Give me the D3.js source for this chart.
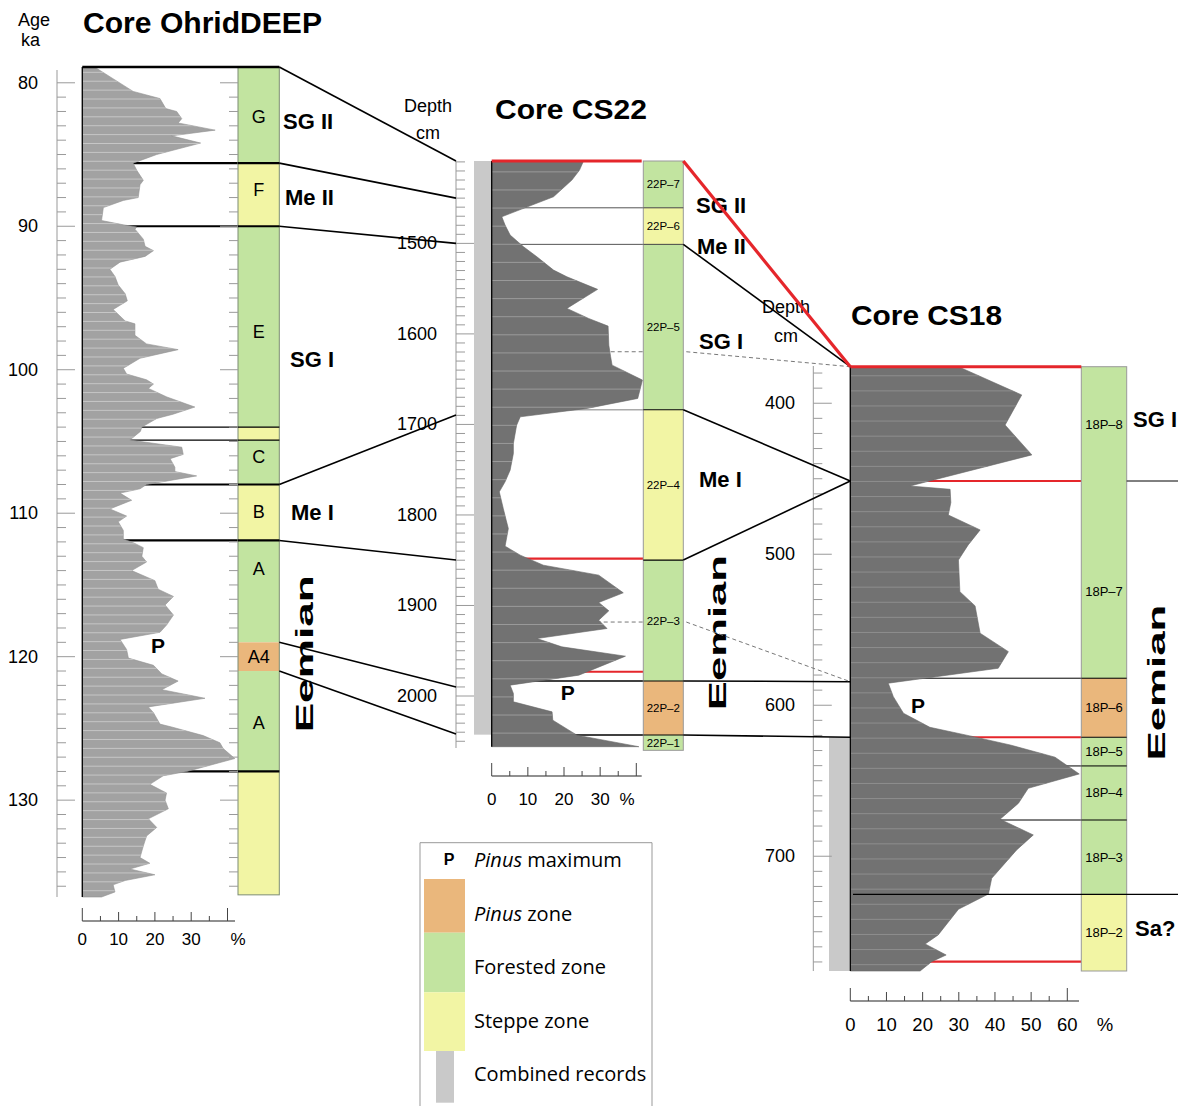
<!DOCTYPE html>
<html><head><meta charset="utf-8">
<script src="https://cdn.jsdelivr.net/npm/d3@7"></script>
<style>body{margin:0;background:#fff}svg{display:block}</style>
</head><body><svg id="chart" width="1186" height="1106" font-family="'Liberation Sans', Arial, Helvetica, sans-serif"></svg>
<script>
// ---------------- DATA ----------------
// OhridDEEP: Pinus % vs age (ka)
const ohridAge = [78.9,79.0,80.6,81.1,81.8,82.0,82.5,82.8,83.3,83.7,84.2,85.0,85.6,86.1,86.8,87.1,88.0,88.2,88.7,89.6,89.9,90.05,90.2,90.9,91.4,91.7,92.1,92.5,93.0,93.5,94.1,94.7,95.2,95.8,96.6,96.8,97.6,98.2,98.6,99.2,99.9,100.3,100.7,101.0,101.3,101.9,102.6,103.1,103.4,104.0,104.3,104.9,105.4,105.9,106.2,106.8,107.1,107.4,108.0,108.3,108.6,109.1,109.7,110.2,110.6,111.2,111.8,112.0,112.4,113.0,113.4,114.0,114.7,115.3,115.8,116.4,117.1,117.8,118.3,118.8,119.5,120.1,120.6,121.2,121.7,122.3,122.9,123.5,123.9,124.7,124.9,125.5,126.0,126.4,127.1,128.0,128.3,128.9,129.5,130.0,130.6,131.3,131.9,132.5,133.2,134.0,134.4,134.8,135.2,135.6,135.9,136.4,136.75];
const ohridPinus = [3.5,4,14,21.4,23,26,27.4,26.4,36.6,24.6,32.6,20.5,14,15,16.8,15.9,15.4,11.3,5.8,5.3,11.3,15,14.5,16.8,17.3,19.6,17.3,10.4,7.6,9,9.9,11.8,12.4,8.5,11.8,14.5,14.5,17.7,26.4,15.9,11.3,12.2,17.7,19.6,18.2,23.3,31,25,20.5,16.4,16,13.1,27.4,27.8,24.2,25.5,25.5,31.5,17.7,15.9,10.4,13.6,7.6,12.2,9.9,11.3,11.3,13.6,16.8,16.4,17.7,13.6,20,20.9,25.1,22.8,25.1,23.2,21.4,10.4,12.2,12.7,19.6,21.9,26.4,21.9,33.8,18.2,19.6,21.4,24.6,33.3,37.9,38.8,42,28.8,22.3,18.6,23.2,22.8,23.7,18.2,20.5,17.7,16.8,15.9,18.6,13.1,20,11.8,8.5,9,5.3];
const ohridZoneNames  = ["G","F","E","","C","B","A","A4","A",""];
const ohridZoneTops   = [78.9,85.6,90.0,104.0,104.9,108.0,111.9,119.0,121.0,128.0];
const ohridZoneBottoms= [85.6,90.0,104.0,104.9,108.0,111.9,119.0,121.0,128.0,136.6];
const ohridZoneTypes  = ["forest","steppe","forest","steppe","forest","steppe","forest","pinus","forest","steppe"];
const ohridZoneLabelAge = [82.4,87.5,97.4,null,106.1,109.9,113.9,120.0,124.6,null];
const ohridMajorBounds = [85.6,90.0,108.0,111.9,128.0];
const ohridMinorBounds = [104.0,104.9];
const ohridAgeTicks = [80,90,100,110,120,130];
const ohridPhases = ["SG II","Me II","SG I","Me I"];
const ohridPhaseAge = [83.2,88.5,99.8,110.5];   // text baselines

// CS22: Pinus % vs depth (cm)
const cs22Depth = [1409,1419,1430,1448.5,1470.6,1479.8,1490.8,1503.7,1514.8,1529.5,1536.9,1550.8,1571.8,1582.9,1591.4,1612.4,1625.3,1634.5,1651,1671.3,1682.3,1691.6,1700.8,1721,1732,1750.5,1763.4,1774.5,1792.8,1805.7,1815,1834.5,1844.4,1855.5,1866.5,1886,1896.7,1905.9,1916.2,1925.4,1936.5,1945.7,1956,1977,1988,1997.2,2006.4,2017.5,2026.7,2043.3,2056];
const cs22Pinus = [25.4,24.3,22.2,17.1,2.8,3.7,5.1,8.8,12.5,17.1,20.8,29.3,20.8,26.8,32.2,32.4,32.9,33.3,41.7,40.4,26.4,7.9,6.9,6,6,5.1,3.7,2.1,3.2,4,4.6,3.7,7.9,14.3,29.6,36.4,29.6,32.4,29.6,31.9,12.5,19.4,37,24.1,5.1,6,6,16.7,16.9,23.6,40.7];
const cs22ZoneNames   = ["22P\u20137","22P\u20136","22P\u20135","22P\u20134","22P\u20133","22P\u20132","22P\u20131"];
const cs22ZoneTops    = [1409,1460.7,1501.1,1683.8,1849.8,1983.4,2043.1];
const cs22ZoneBottoms = [1460.7,1501.1,1683.8,1849.8,1983.4,2043.1,2060];
const cs22ZoneTypes   = ["forest","steppe","forest","steppe","forest","pinus","forest"];
const cs22DepthTicks  = [1500,1600,1700,1800,1900,2000];
const cs22Combined    = [1409,2042.7];
const cs22RedBounds   = [1848.3,1973.2];
const cs22DashBounds  = [1619.7,1918.3];
const cs22Phases = ["SG II","Me II","SG I","Me I"];
const cs22PhaseDepth = [1466,1512,1617,1769];   // text baselines

// CS18: Pinus % vs depth (cm)
const cs18Depth = [375.8,394.5,414.4,434.2,454.8,457,465.8,474,483.9,493.8,503.8,524.8,534.2,552.3,564.5,575.5,585.4,594.3,605.3,614.6,620.3,626.3,634.4,645.5,655,664.9,675.5,685.9,695.8,714.6,725,735.1,752.1,758.1,765.4,769.8,776];
const cs18Pinus = [29.9,47.4,42.8,50.2,16.5,27.6,27.8,27.1,35.9,32.6,29.9,30.3,34.5,35.9,43.7,40.9,10.5,11.9,14.7,22,33.1,44.2,56.6,63.3,49.2,46.5,41.4,50.6,46,39.1,38.2,29.9,24.3,20.7,26.5,22.5,19.3];
const cs18ZoneNames   = ["18P\u20138","18P\u20137","18P\u20136","18P\u20135","18P\u20134","18P\u20133","18P\u20132"];
const cs18ZoneTops    = [375.8,451.5,582.1,621.2,640.2,676,725.2];
const cs18ZoneBottoms = [451.5,582.1,621.2,640.2,676,725.2,776];
const cs18ZoneTypes   = ["forest","forest","pinus","forest","forest","forest","steppe"];
const cs18ZoneLabelDepth = [414.4,524.9,null,null,null,null,null];
const cs18DepthTicks  = [400,500,600,700];
const cs18Combined    = [621.2,776];
const cs18RedBounds   = [451.5,621.2,769.8];
const cs18BlackBounds = [582.1,640.2,676];
const cs18Phases = ["SG I","Sa?"];
const cs18PhaseDepth = [415.5,753];   // text baselines

// correlations
const ohridToCS22 = [[78.9,1409],[85.6,1450],[90.0,1500],[108.0,1689.5],[111.9,1849.8],[119.0,1990],[121.0,2042]];
const cs22ToCS18Solid = [[1501.1,375.8],[1683.8,451.5],[1849.8,451.5],[1983.4,584.4],[2043.1,621.2]];
const cs22ToCS18Dash  = [[1619.7,375.8],[1918.3,584.4]];
const cs22ToCS18Red   = [[1409,375.8]];

const pctTicks40 = [0,10,20,30];
const pctTicks60 = [0,10,20,30,40,50,60];

const legendLabels = ["Pinus zone","Forested zone","Steppe zone","Combined records"];
const legendKeys   = ["pinus","forest","steppe","combined"];

// ---------------- STYLE ----------------
const zoneFill = {forest:"#c2e4a0", steppe:"#f2f5a4", pinus:"#eab77c", combined:"#c9c9c9"};
const RED = "#e5262b";
const svg = d3.select("#chart");
const defs = svg.append("defs");

// ---------------- SCALES ----------------
const ohY = d3.scaleLinear().domain([78.9,136.75]).range([67,897]);
const ohX = d3.scaleLinear().domain([0,40]).range([82.3,227.5]);
const c22Y = d3.scaleLinear().domain([1409,2056]).range([161,746.7]);
const c22X = d3.scaleLinear().domain([0,40]).range([491.7,636.3]);
const c18Y = d3.scaleLinear().domain([375.8,776]).range([366.7,971]);
const c18X = d3.scaleLinear().domain([0,60]).range([850.3,1067.3]);

const OH_COL = [238,279.3], C22_COL = [643.3,683.3], C18_COL = [1081.3,1126.7];

const gUnder = svg.append("g");
const gCurve = svg.append("g");
const gTop = svg.append("g");

function hline(g, x1, x2, y, stroke, w, dash){
  const l = g.append("line").attr("x1",x1).attr("x2",x2).attr("y1",y).attr("y2",y)
    .attr("stroke",stroke).attr("stroke-width",w);
  if(dash) l.attr("stroke-dasharray",dash);
  return l;
}
function seg(g, x1, y1, x2, y2, stroke, w, dash){
  const l = g.append("line").attr("x1",x1).attr("x2",x2).attr("y1",y1).attr("y2",y2)
    .attr("stroke",stroke).attr("stroke-width",w);
  if(dash) l.attr("stroke-dasharray",dash);
  return l;
}
function text(g, x, y, s, o={}){
  const t = g.append("text").attr("x",x).attr("y",y).text(s)
    .attr("font-size",o.size||18).attr("fill","#000");
  if(o.bold) t.attr("font-weight","bold");
  if(o.anchor) t.attr("text-anchor",o.anchor);
  if(o.mid) t.attr("dominant-baseline","central");
  if(o.len) t.attr("textLength",o.len).attr("lengthAdjust","spacingAndGlyphs");
  if(o.family) t.style("font-family",o.family);
  return t;
}

function drawCurve(id, depths, vals, X, Y, fill, stripe, step){
  const pts = d3.zip(depths, vals);
  const area = d3.area().y(d=>Y(d[0])).x0(X(0)).x1(d=>X(d[1]));
  const p = area(pts);
  defs.append("clipPath").attr("id",id).append("path").attr("d",p);
  gCurve.append("path").attr("d",p).attr("fill",fill).attr("stroke",d3.color(fill).darker(0.3)).attr("stroke-width",0.6);
  const [d0,d1] = Y.domain();
  gCurve.append("g").attr("clip-path",`url(#${id})`)
    .selectAll("line").data(d3.range(d0+step*0.6, d1, step)).join("line")
    .attr("x1",X(0)).attr("x2",X(d3.max(vals))).attr("y1",d=>Y(d)).attr("y2",d=>Y(d))
    .attr("stroke",stripe).attr("stroke-width",1);
  gTop.append("line").attr("x1",X(0)).attr("x2",X(0)).attr("y1",Y(d0)).attr("y2",Y(d1))
    .attr("stroke","#000").attr("stroke-width",1.3);
}

function zoneColumn(col, Y, names, tops, bottoms, types, labelPos, fs, outline){
  const g = gTop.append("g");
  g.selectAll("rect").data(d3.range(names.length)).join("rect")
    .attr("x",col[0]).attr("width",col[1]-col[0])
    .attr("y",i=>Y(tops[i])).attr("height",i=>Y(bottoms[i])-Y(tops[i]))
    .attr("fill",i=>zoneFill[types[i]]);
  g.append("rect").attr("x",col[0]).attr("y",Y(tops[0])).attr("width",col[1]-col[0])
    .attr("height",Y(bottoms[bottoms.length-1])-Y(tops[0])).attr("fill","none")
    .attr("stroke",outline).attr("stroke-width",1);
  names.forEach((n,i)=>{
    if(!n) return;
    const d = (labelPos && labelPos[i]!=null) ? labelPos[i] : (tops[i]+bottoms[i])/2;
    text(g,(col[0]+col[1])/2, Y(d), n, {size:fs, anchor:"middle", mid:true});
  });
}

function depthAxis(Y, x0, ticks, minorLen, majorLen, labels, labelX, yTop, yBot){
  const g = gTop.append("g");
  g.append("line").attr("x1",x0).attr("x2",x0).attr("y1",yTop).attr("y2",yBot).attr("stroke","#999").attr("stroke-width",1);
  g.selectAll("line.t").data(ticks).join("line").attr("class","t")
    .attr("x1",x0).attr("x2",d=>x0+(labels.includes(d)?majorLen:minorLen))
    .attr("y1",d=>Y(d)).attr("y2",d=>Y(d)).attr("stroke","#9a9a9a").attr("stroke-width",1);
  labels.forEach(v=>text(g,labelX,Y(v),String(v),{size:18,anchor:"end",mid:true}));
}

function pctAxis(X, y, maxV, endX, labels, pctX, off, fs){
  const g = gTop.append("g");
  g.append("line").attr("x1",X(0)).attr("x2",endX).attr("y1",y).attr("y2",y).attr("stroke","#222").attr("stroke-width",1.2);
  d3.range(0,maxV+1,5).forEach(v=>{
    const h = (v===0||v===maxV)?13:(v%10===0?9:5);
    seg(g,X(v),y-h,X(v),y,"#444",1);
  });
  labels.forEach(v=>text(g,X(v),y+off,String(v),{size:fs,anchor:"middle"}));
  text(g,pctX,y+off,"%",{size:fs,anchor:"middle"});
}
function eemian(x, y, len){
  gTop.append("text").attr("transform",`translate(${x},${y}) rotate(-90)`)
    .attr("text-anchor","middle").attr("dominant-baseline","central").attr("font-size",23).attr("font-weight","bold")
    .attr("textLength",len).attr("lengthAdjust","spacingAndGlyphs").text("Eemian");
}

// ================= OhridDEEP =================
ohridMajorBounds.forEach(a=>hline(gUnder,ohX(0),OH_COL[1],ohY(a),"#000",2.2));
ohridMinorBounds.forEach(a=>hline(gUnder,ohX(0),OH_COL[1],ohY(a),"#000",1.2));
drawCurve("clipOh", ohridAge, ohridPinus, ohX, ohY, "#a2a2a2", "#c6c6c6", 0.62);
zoneColumn(OH_COL, ohY, ohridZoneNames, ohridZoneTops, ohridZoneBottoms, ohridZoneTypes, ohridZoneLabelAge, 18, "#7d8c75");
{
  const g = gTop.append("g");
  g.append("line").attr("x1",57).attr("x2",57).attr("y1",70).attr("y2",897).attr("stroke","#999");
  d3.range(80,137,1).forEach(a=>{
    const major = ohridAgeTicks.includes(a);
    seg(g,57,ohY(a),major?75:66,ohY(a),"#9a9a9a",1);
    seg(g,major?220:229,ohY(a),238,ohY(a),"#9a9a9a",1);
  });
  ohridAgeTicks.forEach(v=>text(g,38,ohY(v),String(v),{size:18,anchor:"end",mid:true}));
}
pctAxis(ohX, 921, 40, 235, pctTicks40, 238, 24, 17);
hline(gTop, ohX(0), OH_COL[1], ohY(78.9), "#000", 2.6);
ohridMajorBounds.forEach(a=>hline(gTop,OH_COL[0],OH_COL[1],ohY(a),"#000",2.2));
ohridMinorBounds.forEach(a=>hline(gTop,OH_COL[0],OH_COL[1],ohY(a),"#000",1.2));
text(gTop,83,33,"Core OhridDEEP",{size:29,bold:true,len:239});
text(gTop,18,26,"Age",{size:18});
text(gTop,21,46,"ka",{size:18});
ohridPhases.forEach((s,i)=>text(gTop,[283,285,290,291][i],ohY(ohridPhaseAge[i]),s,{size:22,bold:true}));
eemian(305, ohY(119.8), 157);
text(gTop,158,ohY(119.25),"P",{size:21,bold:true,anchor:"middle",mid:true});

// ================= CS22 =================
hline(gUnder,c22X(0),C22_COL[0],c22Y(1460.7),"#555",1);
hline(gUnder,c22X(0),C22_COL[0],c22Y(1501.1),"#555",1);
hline(gUnder,c22X(0),C22_COL[0],c22Y(1683.8),"#aaa",1.5);
cs22RedBounds.forEach(d=>hline(gUnder,c22X(0),C22_COL[0],c22Y(d),RED,2.2));
cs22DashBounds.forEach(d=>hline(gUnder,c22X(0),C22_COL[0],c22Y(d),"#777",1,"4,3"));
hline(gUnder,c22X(0),C22_COL[0],c22Y(1983.4),"#000",1.5);
hline(gUnder,c22X(0),C22_COL[0],c22Y(2043.1),"#000",1.5);
gUnder.append("rect").attr("x",474).attr("width",491-474).attr("y",c22Y(cs22Combined[0]))
  .attr("height",c22Y(cs22Combined[1])-c22Y(cs22Combined[0])).attr("fill",zoneFill.combined);
drawCurve("clip22", cs22Depth, cs22Pinus, c22X, c22Y, "#727272", "#9a9a9a", 20);
zoneColumn(C22_COL, c22Y, cs22ZoneNames, cs22ZoneTops, cs22ZoneBottoms, cs22ZoneTypes, null, 11.5, "#999");
[1460.7,1501.1].forEach(d=>hline(gTop,C22_COL[0],C22_COL[1],c22Y(d),"#444",1));
[1683.8,1849.8,1983.4,2043.1].forEach(d=>hline(gTop,C22_COL[0],C22_COL[1],c22Y(d),"#000",1.2));
depthAxis(c22Y, 456, d3.range(1410,2051,10), 9, 18, cs22DepthTicks, 437, 161, 748);
pctAxis(c22X, 776, 40, 641.7, pctTicks40, 627, 29, 17);
hline(gTop,c22X(0),641.7,c22Y(1409),RED,3);
text(gTop,495,119,"Core CS22",{size:28,bold:true,len:152});
text(gTop,428,112,"Depth",{size:18,anchor:"middle"});
text(gTop,428,139,"cm",{size:18,anchor:"middle"});
cs22Phases.forEach((s,i)=>text(gTop,[696,697,699,699][i],c22Y(cs22PhaseDepth[i]),s,{size:22,bold:true}));
eemian(718, c22Y(1930), 155);
text(gTop,567.7,c22Y(1996),"P",{size:21,bold:true,anchor:"middle",mid:true});

// ================= CS18 =================
cs18RedBounds.forEach(d=>hline(gUnder,c18X(0),C18_COL[0],c18Y(d),RED,2.2));
cs18BlackBounds.forEach(d=>hline(gUnder,c18X(0),C18_COL[1],c18Y(d),"#000",1));
gUnder.append("rect").attr("x",829).attr("width",849.3-829).attr("y",c18Y(cs18Combined[0]))
  .attr("height",c18Y(cs18Combined[1])-c18Y(cs18Combined[0])).attr("fill",zoneFill.combined);
drawCurve("clip18", cs18Depth, cs18Pinus, c18X, c18Y, "#727272", "#8e8e8e", 10);
zoneColumn(C18_COL, c18Y, cs18ZoneNames, cs18ZoneTops, cs18ZoneBottoms, cs18ZoneTypes, cs18ZoneLabelDepth, 13, "#999");
cs18BlackBounds.forEach(d=>hline(gTop,C18_COL[0],C18_COL[1],c18Y(d),"#000",1));
hline(gTop,C18_COL[0],C18_COL[1],c18Y(621.2),"#000",1);
hline(gTop,C18_COL[1],1178,c18Y(451.5),"#000",1);
hline(gTop,853,1178,c18Y(725.2),"#000",1.2);
depthAxis(c18Y, 813.3, d3.range(380,771,10), 9, 18.5, cs18DepthTicks, 795, 366, 971);
pctAxis(c18X, 1001, 60, 1079, pctTicks60, 1105, 29.5, 18.5);
hline(gTop,c18X(0),C18_COL[0],c18Y(375.8),RED,3);
text(gTop,851,325,"Core CS18",{size:28,bold:true,len:151});
text(gTop,786,313,"Depth",{size:18,anchor:"middle"});
text(gTop,786,342,"cm",{size:18,anchor:"middle"});
cs18Phases.forEach((s,i)=>text(gTop,[1133,1135][i],c18Y(cs18PhaseDepth[i]),s,{size:22,bold:true}));
eemian(1157, c18Y(585), 156);
text(gTop,918,c18Y(600),"P",{size:21,bold:true,anchor:"middle",mid:true});

// ================= correlation lines =================
ohridToCS22.forEach(([a,d])=>seg(gTop,OH_COL[1],ohY(a),456,c22Y(d),"#000",1.6));
cs22ToCS18Solid.forEach(([a,b])=>seg(gTop,C22_COL[1],c22Y(a),c18X(0),c18Y(b),"#000",1.6));
cs22ToCS18Dash.forEach(([a,b])=>seg(gTop,C22_COL[1]+3,c22Y(a),c18X(0),c18Y(b),"#777",1,"4,3"));
cs22ToCS18Red.forEach(([a,b])=>seg(gTop,C22_COL[1],c22Y(a),c18X(0),c18Y(b),RED,3.2));

// ================= legend =================
{
  const g = gTop.append("g");
  g.append("path").attr("d","M420,1106V842.7H652V1106").attr("fill","none").attr("stroke","#999").attr("stroke-width",1);
  const LF = "'Open Sans','Noto Sans',sans-serif";
  text(g,449,859,"P",{size:16,bold:true,anchor:"middle",mid:true});
  const t0 = g.append("text").attr("x",474).attr("y",859).attr("dominant-baseline","central")
    .attr("font-size",20).style("font-family",LF);
  t0.append("tspan").attr("font-style","italic").text("Pinus");
  t0.append("tspan").text(" maximum");
  const sw = [[879,932.7],[932.7,992.3],[992.3,1051],[1051,1102.7]];
  legendKeys.forEach((k,i)=>{
    const isBar = k==="combined";
    g.append("rect").attr("x",isBar?436:424).attr("width",isBar?18:41)
      .attr("y",sw[i][0]).attr("height",sw[i][1]-sw[i][0]).attr("fill",zoneFill[k]);
    const yc = [913,966.7,1020,1073][i];
    const t = g.append("text").attr("x",474).attr("y",yc).attr("dominant-baseline","central")
      .attr("font-size",20).style("font-family",LF);
    const lab = legendLabels[i];
    if(lab.startsWith("Pinus")){
      t.append("tspan").attr("font-style","italic").text("Pinus");
      t.append("tspan").text(lab.slice(5));
    } else t.text(lab);
  });
}
</script></body></html>
